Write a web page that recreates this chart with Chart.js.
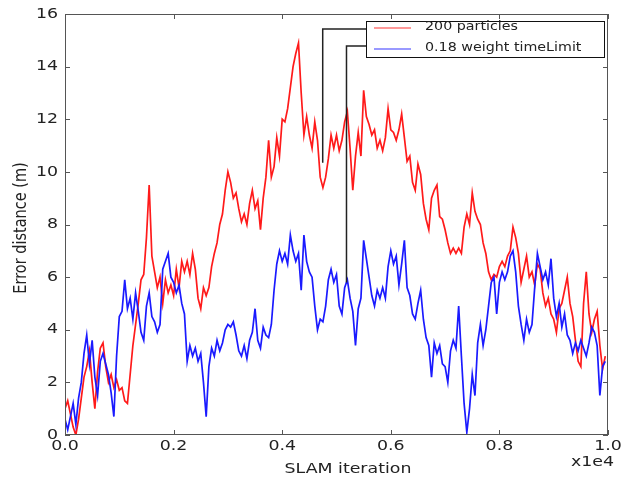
<!DOCTYPE html>
<html><head><meta charset="utf-8">
<script src="https://cdn.jsdelivr.net/npm/chart.js@4"></script>
<style>html,body{margin:0;padding:0;background:#fff}#c{display:block}</style>
</head><body>
<canvas id="c" width="628" height="485"></canvas>
<script>
// ---- data ----
const SAMPLE_STEP = 50; // SLAM iterations between samples
const seriesNames = ['200 particles', '0.18 weight timeLimit'];
const redValues = [
1.0,1.3,0.8,0.3,0.0,0.6,1.4,2.2,2.6,3.2,
2.0,1.0,2.4,3.3,3.5,2.6,2.0,2.3,1.8,2.1,
1.7,1.8,1.3,1.2,2.3,3.4,4.2,5.0,5.9,6.1,
7.5,9.5,6.8,6.2,5.6,6.0,5.0,5.9,5.4,5.7,
5.3,6.3,5.6,6.6,6.2,6.6,6.1,6.9,6.3,5.2,
4.8,5.6,5.3,5.6,6.4,6.9,7.3,8.0,8.4,9.3,
10.0,9.6,9.0,9.2,8.6,8.1,8.4,8.0,8.8,9.3,
8.6,8.9,7.8,9.0,9.8,11.2,9.8,10.2,11.3,10.6,
12.0,11.9,12.4,13.2,14.0,14.5,14.9,13.0,11.4,12.1,
11.4,10.9,11.9,11.2,9.8,9.4,9.8,10.5,11.4,10.9,
11.4,10.8,11.2,11.9,12.3,10.9,9.3,10.6,11.5,10.6,
13.1,12.1,11.8,11.4,11.6,10.9,11.2,10.8,11.3,12.4,
11.6,11.5,11.2,11.6,12.2,11.3,10.4,10.6,9.6,9.3,
10.3,9.9,8.8,8.2,7.8,9.0,9.3,9.5,8.3,8.2,
7.8,7.3,6.9,7.1,6.9,7.1,6.9,7.9,8.4,8.0,
9.2,8.5,8.2,8.0,7.3,6.9,6.2,5.9,6.1,6.0,
6.4,6.6,6.4,6.8,7.0,7.9,7.5,6.9,5.8,6.3,
6.8,6.0,6.2,5.7,6.5,6.3,5.4,4.9,5.2,4.6,
4.4,3.9,4.8,5.0,5.5,6.0,5.0,4.5,3.6,2.8,
2.6,5.0,6.2,4.6,3.9,4.4,4.7,3.4,2.5,3.0
];
const blueValues = [
0.6,0.2,0.7,1.2,0.4,1.4,2.0,3.1,3.8,2.7,
3.6,2.2,1.5,2.8,3.1,2.7,2.3,1.6,0.7,3.0,
4.5,4.7,5.9,4.8,5.2,4.4,5.4,4.7,3.9,3.6,
4.9,5.4,4.5,4.3,3.9,4.2,6.3,6.6,6.9,6.0,
5.8,5.4,5.7,5.0,4.6,2.8,3.4,3.0,3.3,2.8,
3.1,2.0,0.7,2.6,3.3,3.0,3.6,3.2,3.5,4.0,
4.2,4.1,4.3,3.8,3.2,3.0,3.4,2.9,3.6,3.9,
4.8,3.6,3.3,4.1,3.8,3.7,4.2,5.5,6.5,7.0,
6.6,6.9,6.5,7.6,7.0,6.6,6.9,5.5,7.6,6.6,
6.2,6.0,4.9,4.0,4.4,4.3,4.9,5.9,6.3,5.8,
6.1,4.9,4.6,5.6,5.9,5.2,4.7,3.4,4.8,5.2,
7.4,6.7,6.0,5.3,4.9,5.5,5.2,5.6,5.2,6.4,
7.0,6.5,6.8,5.7,6.5,7.4,5.6,5.3,4.6,4.4,
5.0,5.5,4.4,3.7,3.4,2.2,3.5,3.1,3.4,2.7,
2.6,2.0,3.2,3.6,3.3,4.9,3.0,1.2,0.1,1.0,
2.3,1.5,3.5,4.2,3.4,4.0,4.9,5.8,6.0,4.6,
5.8,6.2,5.9,6.2,6.8,7.0,6.2,4.9,4.2,3.6,
4.4,3.9,4.2,5.6,6.9,6.4,5.9,6.2,5.7,6.7,
5.2,4.5,5.0,4.1,4.6,3.8,3.6,3.1,3.5,3.2,
3.6,3.3,3.0,3.5,4.1,3.9,3.4,1.5,2.6,2.8
];
const xTickValues = [0, 2000, 4000, 6000, 8000, 10000];
const yTickValues = [0, 2, 4, 6, 8, 10, 12, 14, 16];
const xTitle = 'SLAM iteration';
const yTitle = 'Error distance (m)';
const xMultiplier = 'x1e4';
// legend pointer targets (iteration, error)
const pointerX = [4746, 5184];
const pointerY = [10.35, 5.8];

const colors = ['#ff1a1a', '#1a1aff'];
const FONT = '"DejaVu Sans", sans-serif';
const SX = 1.24; // horizontal text stretch seen in the reference

function toPoints(vals) { return vals.map((v, i) => ({x: i * SAMPLE_STEP, y: v})); }

function txt(ctx, s, x, y, align, size, rot) {
  ctx.save();
  ctx.translate(x, y);
  if (rot) ctx.rotate(rot);
  ctx.scale(rot ? 1 : SX, rot ? SX : 1);
  ctx.font = size + 'px ' + FONT;
  ctx.textAlign = align;
  ctx.textBaseline = 'middle';
  ctx.fillText(s, 0, 0);
  ctx.restore();
}

const framePlugin = {
  id: 'frame',
  afterDraw(chart) {
    const ctx = chart.ctx, a = chart.chartArea;
    const xs = chart.scales.x, ys = chart.scales.y;
    ctx.save();
    ctx.strokeStyle = '#555';
    ctx.lineWidth = 1;
    ctx.strokeRect(a.left + 0.5, a.top + 0.5, a.right - a.left - 1, a.bottom - a.top - 1);
    ctx.beginPath();
    xTickValues.forEach(v => {
      const px = Math.round(xs.getPixelForValue(v)) + 0.5;
      ctx.moveTo(px, a.bottom); ctx.lineTo(px, a.bottom - 5);
      ctx.moveTo(px, a.top); ctx.lineTo(px, a.top + 5);
    });
    yTickValues.forEach(v => {
      const py = Math.round(ys.getPixelForValue(v)) + 0.5;
      ctx.moveTo(a.left, py); ctx.lineTo(a.left + 5, py);
      ctx.moveTo(a.right, py); ctx.lineTo(a.right - 5, py);
    });
    ctx.stroke();

    // tick labels and titles
    ctx.fillStyle = '#222';
    xTickValues.forEach(v => txt(ctx, (v / 10000).toFixed(1), xs.getPixelForValue(v), a.bottom + 11, 'center', 14));
    yTickValues.forEach(v => txt(ctx, String(v), a.left - 7, ys.getPixelForValue(v), 'right', 14));
    txt(ctx, xTitle, 348, 469, 'center', 14);
    txt(ctx, yTitle, 21, 228, 'center', 14.5, -Math.PI / 2);
    txt(ctx, xMultiplier, 614, 462, 'right', 14);

    // legend box
    const lx = 366, ly = 21, lw = 238, lh = 36;
    const rows = [28, 49];
    const ptrRows = [29, 46];
    ctx.strokeStyle = '#222';
    ctx.lineWidth = 1.5;
    ptrRows.forEach((ry, i) => {
      const px = xs.getPixelForValue(pointerX[i]);
      const py = ys.getPixelForValue(pointerY[i]);
      ctx.beginPath();
      ctx.moveTo(lx, ry);
      ctx.lineTo(px, ry);
      ctx.lineTo(px, py);
      ctx.stroke();
    });
    ctx.fillStyle = '#fff';
    ctx.fillRect(lx, ly, lw, lh);
    ctx.strokeStyle = '#111';
    ctx.lineWidth = 1;
    ctx.strokeRect(lx + 0.5, ly + 0.5, lw, lh);
    rows.forEach((ry, i) => {
      ctx.strokeStyle = colors[i];
      ctx.globalAlpha = 0.6;
      ctx.lineWidth = 1.5;
      ctx.beginPath();
      ctx.moveTo(374, ry); ctx.lineTo(411, ry);
      ctx.stroke();
      ctx.globalAlpha = 1;
      ctx.fillStyle = '#222';
      txt(ctx, seriesNames[i], 425, ry - 1, 'left', 11.5);
    });
    ctx.restore();
  }
};

new Chart(document.getElementById('c'), {
  type: 'line',
  data: {
    datasets: [
      {label: seriesNames[0], data: toPoints(redValues), borderColor: colors[0], borderWidth: 1.7, order: 2},
      {label: seriesNames[1], data: toPoints(blueValues), borderColor: colors[1], borderWidth: 1.7, order: 1}
    ]
  },
  options: {
    responsive: false,
    animation: false,
    events: [],
    layout: {padding: {top: 14, right: 20, left: 0, bottom: 0}},
    elements: {point: {radius: 0}, line: {tension: 0, borderJoinStyle: 'miter'}},
    plugins: {legend: {display: false}, tooltip: {enabled: false}},
    scales: {
      x: {
        type: 'linear', min: 0, max: 10000,
        afterBuildTicks: s => { s.ticks = xTickValues.map(v => ({value: v})); },
        afterFit: s => { s.height = 50; },
        grid: {display: false, drawTicks: false},
        border: {display: false},
        ticks: {display: false}
      },
      y: {
        type: 'linear', min: 0, max: 16,
        afterBuildTicks: s => { s.ticks = yTickValues.map(v => ({value: v})); },
        afterFit: s => { s.width = 65; },
        grid: {display: false, drawTicks: false},
        border: {display: false},
        ticks: {display: false}
      }
    }
  },
  plugins: [framePlugin]
});
</script>
</body></html>
